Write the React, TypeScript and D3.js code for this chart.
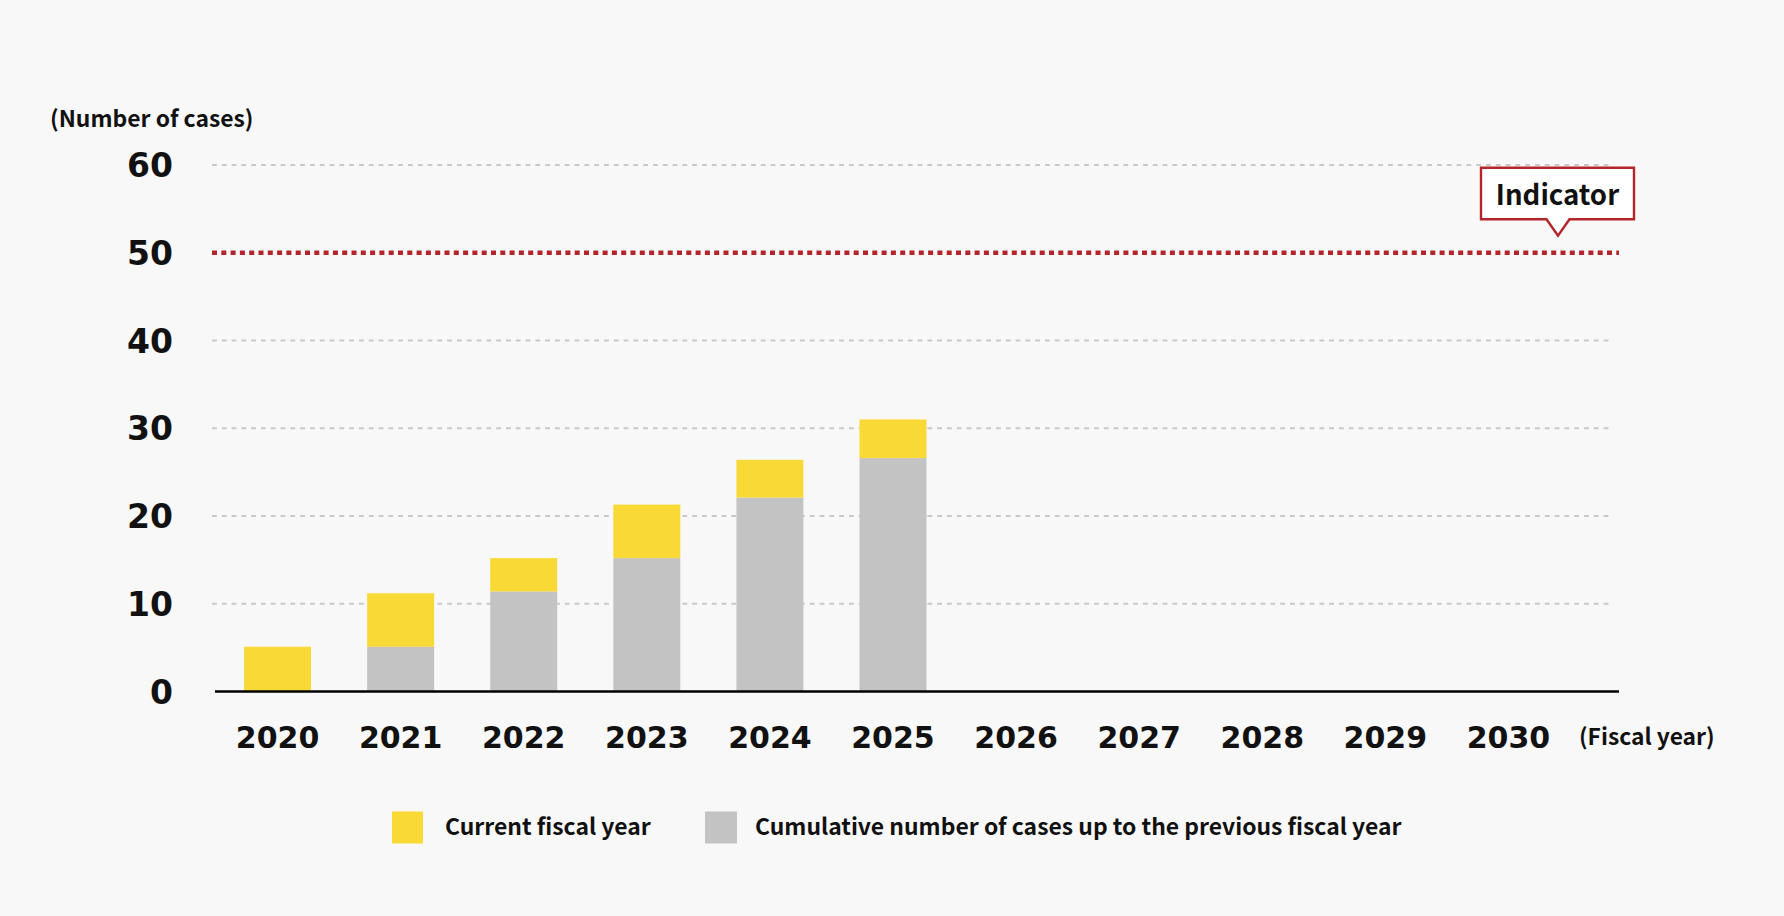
import React from "react";
import * as d3 from "d3";

const years = ["2020", "2021", "2022", "2023", "2024", "2025", "2026", "2027", "2028", "2029", "2030"];
const previousCumulative = [0, 5.1, 11.4, 15.2, 22.1, 26.6];
const currentYear = [5.1, 6.1, 3.8, 6.1, 4.3, 4.4];
const yTicks = [0, 10, 20, 30, 40, 50, 60];
const indicatorValue = 50;
const legendLabels = ["Current fiscal year", "Cumulative number of cases up to the previous fiscal year"];

const W = 1784;
const H = 916;
const YELLOW = "#f9d936";
const GRAY = "#c3c3c3";
const RED = "#b3242b";
const BG = "#f8f8f8";
const NUM_FONT = "'DejaVu Sans', sans-serif";
const TXT_FONT = "'Noto Sans CJK JP', 'Noto Sans', sans-serif";

export default function App() {
  const x = d3.scaleBand<string>().domain(years).range([216, 1570]).paddingInner(0.456).paddingOuter(0.228);
  const y = d3.scaleLinear().domain([0, 60]).range([691.5, 165]);
  const gridX0 = 212;
  const gridX1 = 1610;
  const axisX0 = 215;
  const axisX1 = 1619;

  const bars = previousCumulative.map((p, i) => ({ year: years[i], prev: p, cur: currentYear[i] }));

  const boxX0 = 1481, boxX1 = 1634;
  const tipY = y(indicatorValue) - 17;
  const boxY1 = tipY - 16.5;
  const boxY0 = boxY1 - 51.5;
  const tipX = 1558;

  return (
    <svg width={W} height={H} style={{ position: "absolute", left: 0, top: 0, display: "block" }}>
      <rect x={0} y={0} width={W} height={H} fill={BG} />
      <text x={50} y={126.5} fontFamily={TXT_FONT} fontWeight={700} fontSize={22.9} fill="#111">(Number of cases)</text>

      {yTicks.filter((t) => t !== 0 && t !== indicatorValue).map((t) => (
        <line key={t} x1={gridX0} x2={gridX1} y1={y(t)} y2={y(t)} stroke="#c9c9c9" strokeWidth={2.2} strokeDasharray="4.8 5" />
      ))}

      {yTicks.map((t) => (
        <text key={t} x={173} y={y(t) + 12} textAnchor="end" fontFamily={NUM_FONT} fontWeight={700} fontSize={33} fill="#111">{t}</text>
      ))}

      {bars.map((b) => (
        <g key={b.year}>
          {b.prev > 0 && (
            <rect x={x(b.year)} width={x.bandwidth()} y={y(b.prev)} height={y(0) - y(b.prev)} fill={GRAY} />
          )}
          <rect x={x(b.year)} width={x.bandwidth()} y={y(b.prev + b.cur)} height={y(b.prev) - y(b.prev + b.cur)} fill={YELLOW} />
        </g>
      ))}

      <line x1={axisX0} x2={axisX1} y1={y(0)} y2={y(0)} stroke="#000" strokeWidth={2.6} />

      <line x1={gridX0} x2={axisX1} y1={y(indicatorValue)} y2={y(indicatorValue)} stroke={RED} strokeWidth={4.4} strokeDasharray="5 4.3" />

      <path
        d={`M${boxX0},${boxY0} H${boxX1} V${boxY1} H${tipX + 11.5} L${tipX},${tipY} L${tipX - 11.5},${boxY1} H${boxX0} Z`}
        fill="#fff"
        stroke={RED}
        strokeWidth={2.4}
      />
      <text x={(boxX0 + boxX1) / 2} y={boxY0 + 37} textAnchor="middle" fontFamily={TXT_FONT} fontWeight={700} fontSize={27.6} fill="#111">Indicator</text>

      {years.map((yr) => (
        <text key={yr} x={(x(yr) as number) + x.bandwidth() / 2} y={747.5} textAnchor="middle" fontFamily={NUM_FONT} fontWeight={700} fontSize={30} fill="#111">{yr}</text>
      ))}
      <text x={1579} y={745} fontFamily={TXT_FONT} fontWeight={700} fontSize={22.8} fill="#111">(Fiscal year)</text>

      <rect x={392} y={811.5} width={31} height={32} fill={YELLOW} />
      <text x={445} y={835} fontFamily={TXT_FONT} fontWeight={700} fontSize={22.9} fill="#111">{legendLabels[0]}</text>
      <rect x={705} y={811.5} width={32} height={32} fill={GRAY} />
      <text x={755} y={835} fontFamily={TXT_FONT} fontWeight={700} fontSize={22.9} fill="#111">{legendLabels[1]}</text>
    </svg>
  );
}
